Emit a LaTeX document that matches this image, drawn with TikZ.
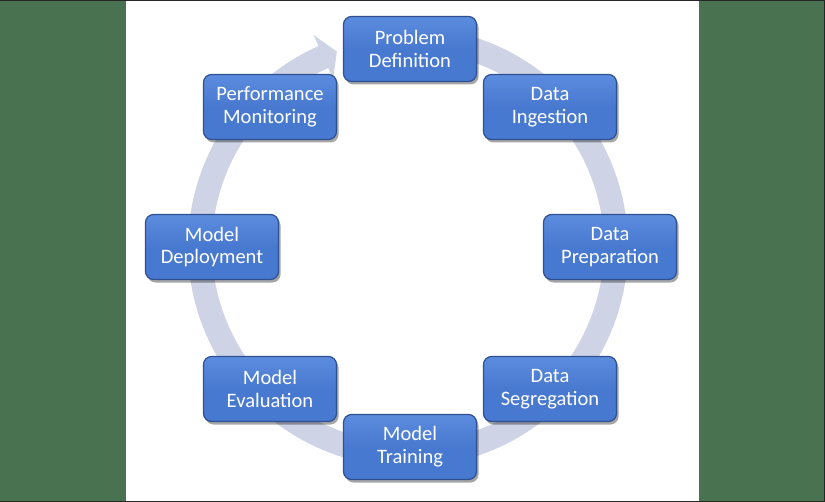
\documentclass[tikz,border=0pt]{standalone}
\usepackage{fontspec}
\setmainfont{Carlito}
\usetikzlibrary{calc,shadows}
\definecolor{bggreen}{RGB}{73,115,80}
\definecolor{ringgray}{RGB}{206,211,230}
\definecolor{boxblue}{RGB}{72,121,208}
\definecolor{boxtop}{RGB}{92,140,222}
\definecolor{boxedge}{RGB}{47,80,145}

\begin{document}
\begin{tikzpicture}[x=1bp,y=-1bp]
\tikzstyle{every node}=[font=\fontsize{20.6}{23}\selectfont]
\tikzstyle{stage}=[draw=boxedge,line width=1.2bp,rounded corners=8bp,
  top color=boxtop,bottom color=boxblue,middle color=boxblue,text=white,
  align=center,minimum width=133bp,minimum height=65bp,inner sep=2bp,
  drop shadow={shadow xshift=2bp,shadow yshift=-3bp,fill=black,opacity=.35}]
\useasboundingbox (0,0) rectangle (825,502);
\fill[bggreen] (0,0) rectangle (825,502);
\fill[white] (126,0) rectangle (699,502);
\draw[black!85,line width=1.5bp] (0,0.75)--(825,0.75) (0,501.25)--(825,501.25) (824.25,0)--(824.25,502);

% cycle arrow behind the stages
\coordinate (c) at (408,247);
\fill[ringgray] ($(c)+(-90:220)$) arc[start angle=-90,end angle=246,radius=220]
  -- ($(c)+(246:232)$) -- ($(c)+(250:208)$) -- ($(c)+(246:184)$)
  -- ($(c)+(246:196)$) arc[start angle=246,end angle=-90,radius=196] -- cycle;

\node[stage] (pd) at (410,49) {Problem\\Definition};
\node[stage] (di) at (550,107) {Data\\Ingestion};
\node[stage] (dp) at (610,247) {Data\\Preparation};
\node[stage] (ds) at (550,389) {Data\\Segregation};
\node[stage] (mt) at (410,447) {Model\\Training};
\node[stage] (me) at (270,389) {Model\\Evaluation};
\node[stage] (md) at (212,247) {Model\\Deployment};
\node[stage] (pm) at (270,107) {Performance\\Monitoring};

\end{tikzpicture}
\end{document}
